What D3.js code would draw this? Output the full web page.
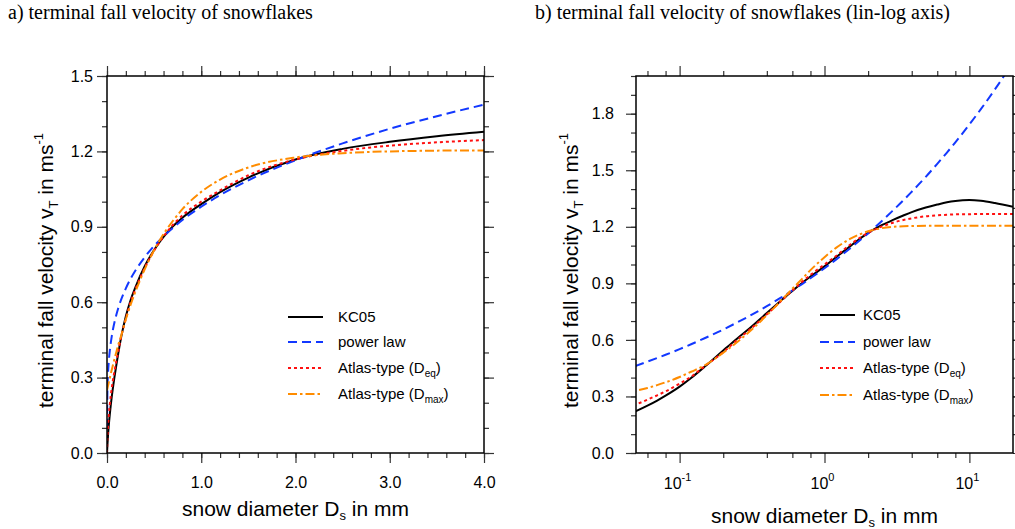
<!DOCTYPE html>
<html><head><meta charset="utf-8">
<script src="https://cdn.jsdelivr.net/npm/d3@7"></script>
<style>body{margin:0;background:#fff}svg{display:block}</style>
</head><body>
<svg id="c" width="1015" height="529"></svg>
<script>
// ---------------- data ----------------
const diameters = [0, 0.005, 0.01, 0.02, 0.03, 0.04, 0.05, 0.06, 0.07, 0.08, 0.1, 0.12, 0.15, 0.2, 0.25, 0.3, 0.4, 0.5, 0.6, 0.7, 0.8, 1.0, 1.2, 1.5, 2.0, 2.5, 3.0, 3.5, 4.0, 5, 6, 7, 8, 10, 12, 15, 20];
const kc05      = [0, 0.035, 0.065, 0.115, 0.155, 0.19, 0.222, 0.251, 0.278, 0.304, 0.352, 0.398, 0.460, 0.544, 0.608, 0.658, 0.743, 0.808, 0.860, 0.902, 0.936, 0.990, 1.038, 1.096, 1.168, 1.21, 1.238, 1.26, 1.278, 1.302, 1.318, 1.33, 1.337, 1.342, 1.338, 1.326, 1.306];
const powerLaw  = [0.10, 0.261, 0.310, 0.369, 0.408, 0.438, 0.463, 0.485, 0.504, 0.521, 0.551, 0.577, 0.610, 0.655, 0.693, 0.725, 0.779, 0.824, 0.862, 0.896, 0.927, 0.980, 1.026, 1.085, 1.165, 1.232, 1.290, 1.340, 1.386, 1.465, 1.534, 1.594, 1.648, 1.743, 1.824, 1.929, 2.072];
const atlasDeq  = [0, 0.06, 0.10, 0.155, 0.195, 0.228, 0.257, 0.283, 0.306, 0.327, 0.368, 0.405, 0.462, 0.535, 0.60, 0.650, 0.736, 0.805, 0.862, 0.908, 0.945, 1.0, 1.045, 1.105, 1.168, 1.202, 1.223, 1.236, 1.245, 1.256, 1.261, 1.264, 1.266, 1.267, 1.268, 1.268, 1.268];
const atlasDmax = [0.25, 0.258, 0.266, 0.283, 0.299, 0.315, 0.330, 0.345, 0.360, 0.375, 0.403, 0.431, 0.466, 0.532, 0.589, 0.640, 0.731, 0.807, 0.871, 0.924, 0.970, 1.039, 1.088, 1.136, 1.176, 1.193, 1.200, 1.203, 1.204, 1.205, 1.205, 1.205, 1.205, 1.205, 1.205, 1.205, 1.205];

const seriesKeys   = ["KC05", "power law", "Atlas-type (Deq)", "Atlas-type (Dmax)"];
const legendMain   = ["KC05", "power law", "Atlas-type (D", "Atlas-type (D"];
const legendSub    = ["", "", "eq", "max"];
const legendTail   = ["", "", ")", ")"];

const linXTicks    = [0, 1, 2, 3, 4];
const linXLabels   = ["0.0", "1.0", "2.0", "3.0", "4.0"];
const logXTicks    = [0.1, 1, 10];
const logXExps     = ["-1", "0", "1"];
const logXMinor    = [0.06, 0.08, 0.2, 0.4, 0.6, 0.8, 2, 4, 6, 8];
const yTicksA      = [0, 0.3, 0.6, 0.9, 1.2, 1.5];
const yTicksB      = [0, 0.3, 0.6, 0.9, 1.2, 1.5, 1.8];

// ---------------- styles ----------------
const styles = [
  {color: "#000000", dash: null,            width: 2},
  {color: "#1238ff", dash: "9,5",           width: 2},
  {color: "#ff1010", dash: "3,3",           width: 2},
  {color: "#ff8c00", dash: "9,3,2.5,3",     width: 2}
];
const allSeries = [kc05, powerLaw, atlasDeq, atlasDmax];

const svg = d3.select("#c");
const SANS = "'Liberation Sans', Arial, Helvetica, sans-serif";
const SERIF = "'Liberation Serif', 'Times New Roman', serif";

const panels = [
  {key: "a", left: 107, top: 76, w: 377, h: 377, log: false, xDomain: [0, 4], yDomain: [0, 1.5], yTicks: yTicksA,
   title: "a) terminal fall velocity of snowflakes", titleX: 8, yLabX: 53, yPad: 4, xTitleY: 516,
   legX: 288, legY: [317, 342, 368, 394]},
  {key: "b", left: 636, top: 76, w: 377, h: 377, log: true, xDomain: [0.05, 20], yDomain: [0, 2.0], yTicks: yTicksB,
   title: "b) terminal fall velocity of snowflakes (lin-log axis)", titleX: 535, yLabX: 578, yPad: 12, xTitleY: 523,
   legX: 820, legY: [315, 342, 368, 395]}
];

panels.forEach(p => {
  const g = svg.append("g");
  const x = (p.log ? d3.scaleLog() : d3.scaleLinear()).domain(p.xDomain).range([p.left, p.left + p.w]);
  const y = d3.scaleLinear().domain(p.yDomain).range([p.top + p.h, p.top]);

  // title
  svg.append("text").attr("x", p.titleX).attr("y", 19).attr("font-family", SERIF).attr("font-size", 20)
    .attr("fill", "#000").text(p.title);

  // clip
  const clipId = "clip-" + p.key;
  svg.append("clipPath").attr("id", clipId).append("rect")
    .attr("x", p.left).attr("y", p.top).attr("width", p.w).attr("height", p.h);

  // curves
  const pts = diameters.map((d, i) => i).filter(i => p.log ? diameters[i] > 0.03 : diameters[i] <= 4.0001);
  allSeries.forEach((vals, s) => {
    const ln = d3.line().x(i => x(diameters[i])).y(i => y(vals[i])).curve(d3.curveMonotoneX);
    g.append("path").attr("clip-path", `url(#${clipId})`).attr("d", ln(pts))
      .attr("fill", "none").attr("stroke", styles[s].color).attr("stroke-width", styles[s].width)
      .attr("stroke-dasharray", styles[s].dash).attr("stroke-linejoin", "round");
  });

  // axes (ticks outward on all 4 sides)
  const tickStyle = sel => {
    sel.select(".domain").remove();
    sel.selectAll(".tick line").attr("stroke", "#333").attr("stroke-width", 1.2);
    sel.selectAll("text").attr("font-family", SANS).attr("font-size", 16).attr("fill", "#000");
  };
  const yMinor = d3.range(0, Math.round(p.yDomain[1] * 10) + 1).map(k => k / 10);
  const xMinor = p.log ? logXMinor : d3.range(0, 21).map(k => k / 5);

  // bottom
  if (p.log) {
    g.append("g").attr("transform", `translate(0,${p.top + p.h})`)
      .call(d3.axisBottom(x).tickValues(logXTicks).tickSize(10).tickFormat("")).call(tickStyle);
    logXTicks.forEach((v, i) => {
      const t = g.append("text").attr("x", x(v) - 2).attr("y", 489).attr("text-anchor", "middle")
        .attr("font-family", SANS).attr("font-size", 16).attr("fill", "#000");
      t.append("tspan").text("10");
      t.append("tspan").attr("dy", -8).attr("font-size", 11).text(logXExps[i]);
    });
  } else {
    g.append("g").attr("transform", `translate(0,${p.top + p.h})`)
      .call(d3.axisBottom(x).tickValues(linXTicks).tickSize(10).tickPadding(14).tickFormat((d, i) => linXLabels[i])).call(tickStyle);
  }
  g.append("g").attr("transform", `translate(0,${p.top + p.h})`)
    .call(d3.axisBottom(x).tickValues(xMinor).tickSize(5).tickFormat("")).call(tickStyle);
  // top
  g.append("g").attr("transform", `translate(0,${p.top})`)
    .call(d3.axisTop(x).tickValues(p.log ? logXTicks : linXTicks).tickSize(10).tickFormat("")).call(tickStyle);
  g.append("g").attr("transform", `translate(0,${p.top})`)
    .call(d3.axisTop(x).tickValues(xMinor).tickSize(5).tickFormat("")).call(tickStyle);
  // left
  g.append("g").attr("transform", `translate(${p.left},0)`)
    .call(d3.axisLeft(y).tickValues(p.yTicks).tickSize(10).tickPadding(p.yPad).tickFormat(d3.format(".1f"))).call(tickStyle);
  g.append("g").attr("transform", `translate(${p.left},0)`)
    .call(d3.axisLeft(y).tickValues(yMinor).tickSize(5).tickFormat("")).call(tickStyle);
  // right
  g.append("g").attr("transform", `translate(${p.left + p.w},0)`)
    .call(d3.axisRight(y).tickValues(p.yTicks).tickSize(10).tickFormat("")).call(tickStyle);
  g.append("g").attr("transform", `translate(${p.left + p.w},0)`)
    .call(d3.axisRight(y).tickValues(yMinor).tickSize(5).tickFormat("")).call(tickStyle);

  // frame
  g.append("rect").attr("x", p.left).attr("y", p.top).attr("width", p.w).attr("height", p.h)
    .attr("fill", "none").attr("stroke", "#000").attr("stroke-width", 1.5);

  // y label
  const yl = g.append("text").attr("transform", `translate(${p.yLabX},${p.top + p.h / 2 + 6}) rotate(-90)`)
    .attr("text-anchor", "middle").attr("font-family", SANS).attr("font-size", 21).attr("fill", "#000");
  yl.append("tspan").text("terminal fall velocity v");
  yl.append("tspan").attr("dy", 5).attr("font-size", 13).text("T");
  yl.append("tspan").attr("dy", -5).text(" in ms");
  yl.append("tspan").attr("dy", -10).attr("font-size", 13).text("-1");

  // x label
  const xl = g.append("text").attr("x", p.left + p.w / 2).attr("y", p.xTitleY).attr("text-anchor", "middle")
    .attr("font-family", SANS).attr("font-size", 21).attr("fill", "#000");
  xl.append("tspan").text("snow diameter D");
  xl.append("tspan").attr("dy", 4).attr("font-size", 13).text("s");
  xl.append("tspan").attr("dy", -4).text(" in mm");

  // legend
  seriesKeys.forEach((k, s) => {
    const ly = p.legY[s];
    g.append("line").attr("x1", p.legX).attr("x2", p.legX + 35).attr("y1", ly).attr("y2", ly)
      .attr("stroke", styles[s].color).attr("stroke-width", styles[s].width).attr("stroke-dasharray", styles[s].dash);
    const t = g.append("text").attr("x", p.legX + (p.log ? 43 : 50)).attr("y", ly + 5)
      .attr("font-family", SANS).attr("font-size", 15).attr("fill", "#000");
    t.append("tspan").text(legendMain[s]);
    if (legendSub[s]) {
      t.append("tspan").attr("dy", 4).attr("font-size", 10).text(legendSub[s]);
      t.append("tspan").attr("dy", -4).text(legendTail[s]);
    }
  });
});
</script>
</body></html>
